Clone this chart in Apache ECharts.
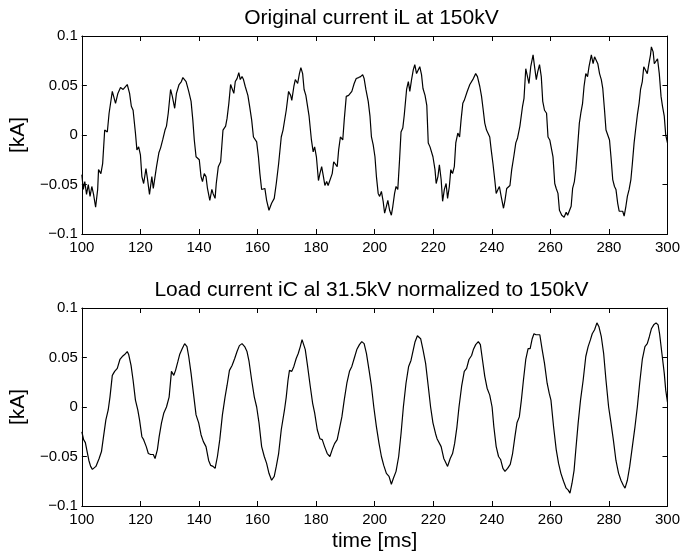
<!DOCTYPE html>
<html>
<head>
<meta charset="utf-8">
<script src="https://cdn.jsdelivr.net/npm/echarts@6/dist/echarts.min.js"></script>
<style>
html,body{margin:0;padding:0;background:#fff;}
#chart{width:683px;height:555px;}
</style>
</head>
<body>
<div id="chart"></div>
<script>
// ---- data (time in ms, current in kA) ----
const titleTop = 'Original current iL at 150kV';
const titleBottom = 'Load current iC al 31.5kV normalized to 150kV';
const xLabel = 'time [ms]';
const yLabel = '[kA]';
const xTicks = [100, 120, 140, 160, 180, 200, 220, 240, 260, 280, 300];
const yTicks = [-0.1, -0.05, 0, 0.05, 0.1];

const iL = [
[100.0,-0.040],[100.5,-0.055],[101.0,-0.047],[101.6,-0.060],[102.2,-0.050],[102.8,-0.062],[103.4,-0.052],[104.0,-0.060],[104.7,-0.073],[105.4,-0.055],
[105.7,-0.035],[106.5,-0.039],[107.1,-0.029],[107.8,0.005],[108.7,0.003],[109.3,0.022],[110.4,0.044],[111.5,0.032],[112.3,0.042],[113.2,0.048],[114.1,0.046],[114.7,0.048],[115.5,0.051],[116.3,0.042],[116.9,0.029],[117.5,0.025],[118.3,0.002],[118.8,-0.015],[119.4,-0.012],[120.0,-0.020],[120.5,-0.042],[121.1,-0.049],[121.9,-0.034],[122.4,-0.044],[123.1,-0.060],[123.9,-0.042],[124.4,-0.054],[125.0,-0.052],[125.5,-0.032],[126.3,-0.018],[126.9,-0.013],[127.6,-0.005],[128.4,0.005],[128.9,0.009],[129.5,0.022],[130.3,0.046],[130.9,0.039],[131.7,0.027],[132.3,0.042],[133.2,0.051],[134.0,0.054],[134.5,0.058],[135.1,0.058],[135.6,0.054],[136.5,0.044],[137.3,0.034],[137.9,0.015],[138.4,-0.005],[139.0,-0.022],[139.6,-0.020],[140.1,-0.025],[140.7,-0.042],[141.2,-0.047],[141.8,-0.039],[142.4,-0.042],[142.9,-0.054],[143.7,-0.066],[144.4,-0.055],[144.8,-0.059],[145.5,-0.064],[145.9,-0.049],[146.6,-0.032],[147.4,-0.027],[148.2,0.005],[149.1,0.009],[149.6,0.017],[150.2,0.032],[150.8,0.051],[151.3,0.052],[151.9,0.042],[152.4,0.054],[153.0,0.057],[153.6,0.063],[154.1,0.056],[154.7,0.059],[155.2,0.056],[155.8,0.049],[156.7,0.040],[157.3,0.029],[158.0,0.015],[158.6,-0.002],[159.7,-0.007],[160.3,-0.022],[160.8,-0.039],[161.4,-0.055],[162.0,-0.057],[162.5,-0.054],[163.1,-0.066],[163.9,-0.076],[164.8,-0.069],[165.7,-0.064],[166.4,-0.049],[167.2,-0.029],[168.1,-0.002],[168.7,0.005],
[169.8,0.025],[170.6,0.044],[171.3,0.040],[171.7,0.035],[172.4,0.049],[172.9,0.056],[173.7,0.052],[174.3,0.062],[174.8,0.068],[175.4,0.062],[175.9,0.046],[176.5,0.040],[177.1,0.039],[177.6,0.019],[178.4,-0.005],[179.0,-0.017],[179.5,-0.012],[180.1,-0.022],[180.8,-0.046],[181.3,-0.039],[181.9,-0.032],[182.5,-0.042],[183.0,-0.051],[183.6,-0.047],[184.1,-0.051],[184.7,-0.049],[185.5,-0.039],[186.0,-0.027],[186.6,-0.029],[187.2,-0.032],[187.7,-0.015],[188.3,-0.002],[189.1,-0.005],[189.6,0.015],[190.3,0.039],[191.1,0.040],[191.6,0.039],[192.2,0.044],[193.0,0.052],[193.7,0.057],[194.5,0.058],[195.2,0.059],[195.9,0.061],[196.4,0.057],[197.0,0.046],[197.8,0.034],[198.4,0.019],[198.9,-0.002],[199.5,-0.010],[200.1,-0.022],[200.6,-0.042],[201.2,-0.059],[201.7,-0.062],[202.3,-0.057],[202.9,-0.067],[203.4,-0.079],[204.0,-0.072],[204.5,-0.066],[205.1,-0.076],[205.7,-0.081],[206.2,-0.072],[206.8,-0.059],[207.3,-0.052],[207.9,-0.055],[208.5,-0.025],[209.0,0.003],[209.6,0.007],[210.1,0.020],[210.9,0.046],[211.5,0.054],[212.0,0.044],[212.6,0.056],[213.2,0.066],[213.7,0.071],[214.3,0.062],[214.8,0.064],[215.4,0.069],[216.0,0.061],[216.5,0.047],[217.2,0.040],[217.8,0.030],[218.3,-0.008],[218.9,-0.012],[219.4,-0.010],[219.9,-0.022],[220.6,-0.035],[221.0,-0.049],[221.6,-0.042],[222.1,-0.030],[222.7,-0.045],[223.2,-0.067],[223.8,-0.055],[224.4,-0.049],[224.9,-0.064],[225.5,-0.052],[226.0,-0.035],[226.6,-0.039],[227.2,-0.032],[227.7,-0.008],[228.4,0.002],[229.0,-0.002],[229.5,0.015],[230.1,0.032],[230.6,0.035],[231.1,0.035],[231.6,0.044],[232.5,0.051],
[233.7,0.057],[234.5,0.062],[235.1,0.059],[235.9,0.049],[236.5,0.039],[237.0,0.027],[237.6,0.012],[238.2,0.005],[238.7,0.004],[239.3,-0.002],[239.8,-0.015],[240.4,-0.029],[241.0,-0.045],[241.5,-0.059],[242.1,-0.055],[242.6,-0.052],[243.2,-0.062],[244.0,-0.074],[244.5,-0.066],[245.1,-0.054],[245.7,-0.052],[246.2,-0.051],[246.8,-0.035],[247.5,-0.022],[248.2,-0.008],[248.8,-0.003],[249.6,0.009],[250.5,0.029],[251.0,0.037],[251.6,0.067],[252.2,0.066],[252.7,0.052],[253.3,0.069],[254.1,0.081],[254.6,0.069],[255.2,0.056],[255.7,0.064],[256.3,0.071],[256.9,0.059],[257.4,0.034],[258.0,0.025],[258.7,0.022],[259.2,-0.002],[259.8,-0.005],[260.3,-0.003],[260.9,-0.022],[261.5,-0.049],[262.0,-0.054],[262.6,-0.059],[263.1,-0.076],[263.9,-0.081],[264.7,-0.083],[265.4,-0.078],[265.9,-0.081],[266.5,-0.083],[267.1,-0.072],[267.6,-0.054],[268.2,-0.047],[268.7,-0.035],[269.3,-0.012],[269.9,0.012],[270.4,0.022],[271.0,0.032],[271.5,0.049],[272.1,0.062],[272.7,0.059],[273.2,0.069],[274.0,0.081],[274.6,0.072],[275.1,0.079],[275.7,0.081],[276.2,0.072],[276.8,0.062],[277.4,0.056],[277.9,0.047],[278.5,0.025],[279.0,0.005],[279.6,0.007],[280.2,-0.005],[280.7,-0.022],[281.3,-0.045],[281.9,-0.052],[282.4,-0.055],[283.0,-0.069],[283.5,-0.077],[284.1,-0.076],[284.7,-0.077],[285.2,-0.082],[285.8,-0.072],[286.3,-0.062],[286.9,-0.055],[287.5,-0.045],[288.0,-0.029],[288.6,-0.008],[289.1,0.005],[289.7,0.020],[290.3,0.032],[290.8,0.046],[291.4,0.054],[291.9,0.069],[292.5,0.071],[293.1,0.062],[293.6,0.071],[294.2,0.081],[294.5,0.089],[295.1,0.084],[295.5,0.072],[296.1,0.071],[296.6,0.077],[297.2,0.062],[297.8,0.039],[298.3,0.029],[298.9,0.019],[299.4,0.000],[300.0,-0.008]
];

const iC = [
[100.0,-0.025],[100.6,-0.033],[101.2,-0.036],[101.8,-0.045],[102.4,-0.054],[103.0,-0.060],[103.6,-0.063],[104.2,-0.062],[104.8,-0.060],
[105.4,-0.058],[105.9,-0.052],[106.7,-0.045],[107.4,-0.030],[108.2,-0.013],[109.0,-0.003],[109.6,0.010],[110.4,0.032],[111.2,0.036],[112.1,0.039],[113.0,0.048],[113.8,0.051],[114.6,0.053],[115.5,0.056],[116.0,0.053],[116.8,0.042],[117.5,0.027],[118.3,0.007],[119.1,-0.003],[119.7,-0.013],[120.5,-0.030],[121.1,-0.033],[122.0,-0.040],[122.7,-0.047],[123.5,-0.048],[124.4,-0.048],[125.0,-0.052],[125.8,-0.043],[126.4,-0.030],[127.2,-0.016],[128.0,-0.006],[128.9,0.000],[129.8,0.010],[130.6,0.036],[131.4,0.032],[132.0,0.037],[132.8,0.046],[133.4,0.053],[134.3,0.059],[135.1,0.064],[135.9,0.061],[136.5,0.051],[137.3,0.034],[138.1,0.014],[139.0,-0.008],[139.9,-0.016],[140.7,-0.028],[141.5,-0.035],[142.4,-0.040],[143.3,-0.054],[144.0,-0.059],[144.8,-0.060],[145.5,-0.062],[146.3,-0.050],[147.1,-0.033],[148.0,-0.008],[148.9,0.010],[149.6,0.022],[150.4,0.037],[151.3,0.042],[152.2,0.049],[153.0,0.056],[153.8,0.062],[154.7,0.064],[155.6,0.061],[156.4,0.056],[157.1,0.046],[158.0,0.027],[158.9,0.010],[159.7,0.000],[160.5,-0.016],[161.4,-0.040],[162.3,-0.050],[163.1,-0.057],[163.9,-0.067],[164.8,-0.074],[165.7,-0.070],[166.4,-0.060],[167.2,-0.047],[168.1,-0.023],
[169.2,-0.003],[169.8,0.010],[170.4,0.027],[170.9,0.037],[171.7,0.036],[172.4,0.041],[173.2,0.049],[173.9,0.054],[174.6,0.061],[175.2,0.068],[175.7,0.066],[176.3,0.058],[177.1,0.041],[178.0,0.021],[178.8,0.004],[179.5,-0.006],[180.4,-0.023],[181.3,-0.032],[182.1,-0.033],[182.9,-0.040],[183.8,-0.047],[184.7,-0.050],[185.5,-0.043],[186.3,-0.037],[187.2,-0.033],[188.1,-0.020],[188.8,-0.010],[189.6,0.007],[190.5,0.024],[191.4,0.036],[192.2,0.041],[193.0,0.049],[193.9,0.058],[194.8,0.063],[195.6,0.066],[196.4,0.064],[197.2,0.054],[198.1,0.037],[198.9,0.021],[199.7,0.000],[200.6,-0.020],[201.5,-0.037],[202.3,-0.050],[203.1,-0.059],[204.0,-0.067],[204.9,-0.070],[205.7,-0.078],[206.4,-0.072],[207.3,-0.065],[208.2,-0.050],[209.0,-0.027],[209.8,0.000],[210.7,0.024],[211.6,0.041],[212.4,0.047],[213.2,0.058],[213.8,0.066],[214.6,0.072],[215.2,0.073],[215.7,0.069],[216.5,0.058],[217.4,0.044],[218.3,0.021],[219.1,0.000],[219.9,-0.016],[220.8,-0.027],[221.3,-0.032],[221.9,-0.033],[222.7,-0.040],[223.6,-0.052],[224.1,-0.055],[224.9,-0.060],[225.8,-0.052],[226.6,-0.047],[227.3,-0.037],[228.1,-0.020],[228.8,0.000],[229.7,0.021],[230.6,0.036],[231.4,0.039],[232.2,0.048],
[233.1,0.052],[233.7,0.058],[234.5,0.063],[235.4,0.066],[236.1,0.063],[236.8,0.048],[237.6,0.031],[238.4,0.019],[239.3,0.012],[240.1,0.000],[240.7,-0.020],[241.5,-0.040],[242.3,-0.050],[243.0,-0.053],[243.8,-0.062],[244.5,-0.065],[245.4,-0.062],[246.3,-0.058],[247.1,-0.047],[247.9,-0.030],[248.6,-0.016],[249.4,-0.010],[250.1,0.007],[250.8,0.027],[251.6,0.048],[252.4,0.059],[253.1,0.059],[253.8,0.069],[254.4,0.074],[255.1,0.073],[255.7,0.074],[256.4,0.073],[257.2,0.058],[258.0,0.044],[258.9,0.024],[259.6,0.014],[260.2,0.007],[261.1,-0.020],[262.0,-0.043],[262.8,-0.057],[263.6,-0.067],[264.5,-0.075],[265.4,-0.082],[266.1,-0.084],[266.7,-0.087],[267.4,-0.077],[268.1,-0.064],[268.7,-0.043],[269.5,-0.016],[270.3,0.007],[271.2,0.027],[272.1,0.051],[272.9,0.061],[273.7,0.068],[274.3,0.074],[275.1,0.078],[275.9,0.085],[276.6,0.081],[277.4,0.071],[278.2,0.054],[279.0,0.027],[279.9,0.000],[280.7,-0.016],[281.5,-0.033],[282.4,-0.054],[283.3,-0.067],[284.1,-0.074],[284.9,-0.079],[285.5,-0.082],[286.3,-0.074],[287.1,-0.060],[288.0,-0.040],[288.9,-0.020],[289.7,0.000],[290.5,0.024],[291.4,0.048],[292.3,0.061],[293.1,0.064],[293.8,0.071],[294.5,0.079],[295.3,0.083],[296.1,0.085],[296.8,0.083],[297.3,0.074],[298.1,0.054],[298.9,0.034],[299.4,0.017],[300.0,0.005]
];

// ---- chart ----
const FONT = '"Liberation Sans", Arial, Helvetica, sans-serif';
const chart = echarts.init(document.getElementById('chart'), null, {renderer: 'canvas'});

const xMin = xTicks[0], xMax = xTicks[xTicks.length - 1], xStep = xTicks[1] - xTicks[0];
const yMin = yTicks[0], yMax = yTicks[yTicks.length - 1], yStep = yTicks[1] - yTicks[0];

function yFmt(v) {
  if (Math.abs(v) < 1e-9) return '0';
  return String(Math.round(v * 100) / 100).replace('-', '\u2212');
}

const grids = [
  {left: 74, top: 36, width: 595, height: 198},
  {left: 74, top: 308, width: 595, height: 198}
];

const lineStyle = {color: '#000', width: 1};
const xAxes = [], yAxes = [];
grids.forEach((g, gi) => {
  ['bottom', 'top'].forEach(pos => {
    const isMain = pos === 'bottom';
    const ax = {
      type: 'value', gridIndex: gi, position: pos,
      min: xMin, max: xMax, interval: xStep,
      axisLine: {show: true, onZero: false, lineStyle},
      axisTick: {show: true, inside: true, length: 5, lineStyle},
      axisLabel: {show: isMain, color: '#000', fontSize: 15, fontFamily: FONT, margin: 6,
                  showMinLabel: true, showMaxLabel: true},
      splitLine: {show: false}
    };
    if (isMain && gi === 1) {
      ax.name = xLabel;
      ax.nameLocation = 'middle';
      ax.nameGap = 25;
      ax.nameTextStyle = {color: '#000', fontSize: 21, fontFamily: FONT};
    }
    xAxes.push(ax);
  });
  ['left', 'right'].forEach(pos => {
    const isMain = pos === 'left';
    const ax = {
      type: 'value', gridIndex: gi, position: pos,
      min: yMin, max: yMax, interval: yStep,
      axisLine: {show: true, onZero: false, lineStyle},
      axisTick: {show: true, inside: true, length: 5, lineStyle},
      axisLabel: {show: isMain, color: '#000', fontSize: 15, fontFamily: FONT, margin: 4,
                  formatter: yFmt, showMinLabel: true, showMaxLabel: true},
      splitLine: {show: false}
    };
    if (isMain) {
      ax.name = yLabel;
      ax.nameLocation = 'middle';
      ax.nameGap = 45;
      ax.nameTextStyle = {color: '#000', fontSize: 21, fontFamily: FONT};
    }
    yAxes.push(ax);
  });
});

const titleStyle = {fill: '#000', font: '21px ' + FONT, textAlign: 'center', textVerticalAlign: 'middle', align: 'center', verticalAlign: 'middle'};
const option = {
  backgroundColor: '#fff',
  animation: false,
  grid: grids,
  xAxis: xAxes,
  yAxis: yAxes,
  graphic: [
    {type: 'text', x: 371.5, y: 18, style: Object.assign({text: titleTop}, titleStyle)},
    {type: 'text', x: 371.5, y: 290, style: Object.assign({text: titleBottom}, titleStyle)}
  ],
  series: [
    {type: 'line', xAxisIndex: 0, yAxisIndex: 0, data: iL, showSymbol: false, symbol: 'none',
     lineStyle: {color: '#000', width: 1.2}, silent: true, clip: true},
    {type: 'line', xAxisIndex: 2, yAxisIndex: 2, data: iC, showSymbol: false, symbol: 'none',
     lineStyle: {color: '#000', width: 1.2}, silent: true, clip: true}
  ]
};
chart.setOption(option);
</script>
</body>
</html>
